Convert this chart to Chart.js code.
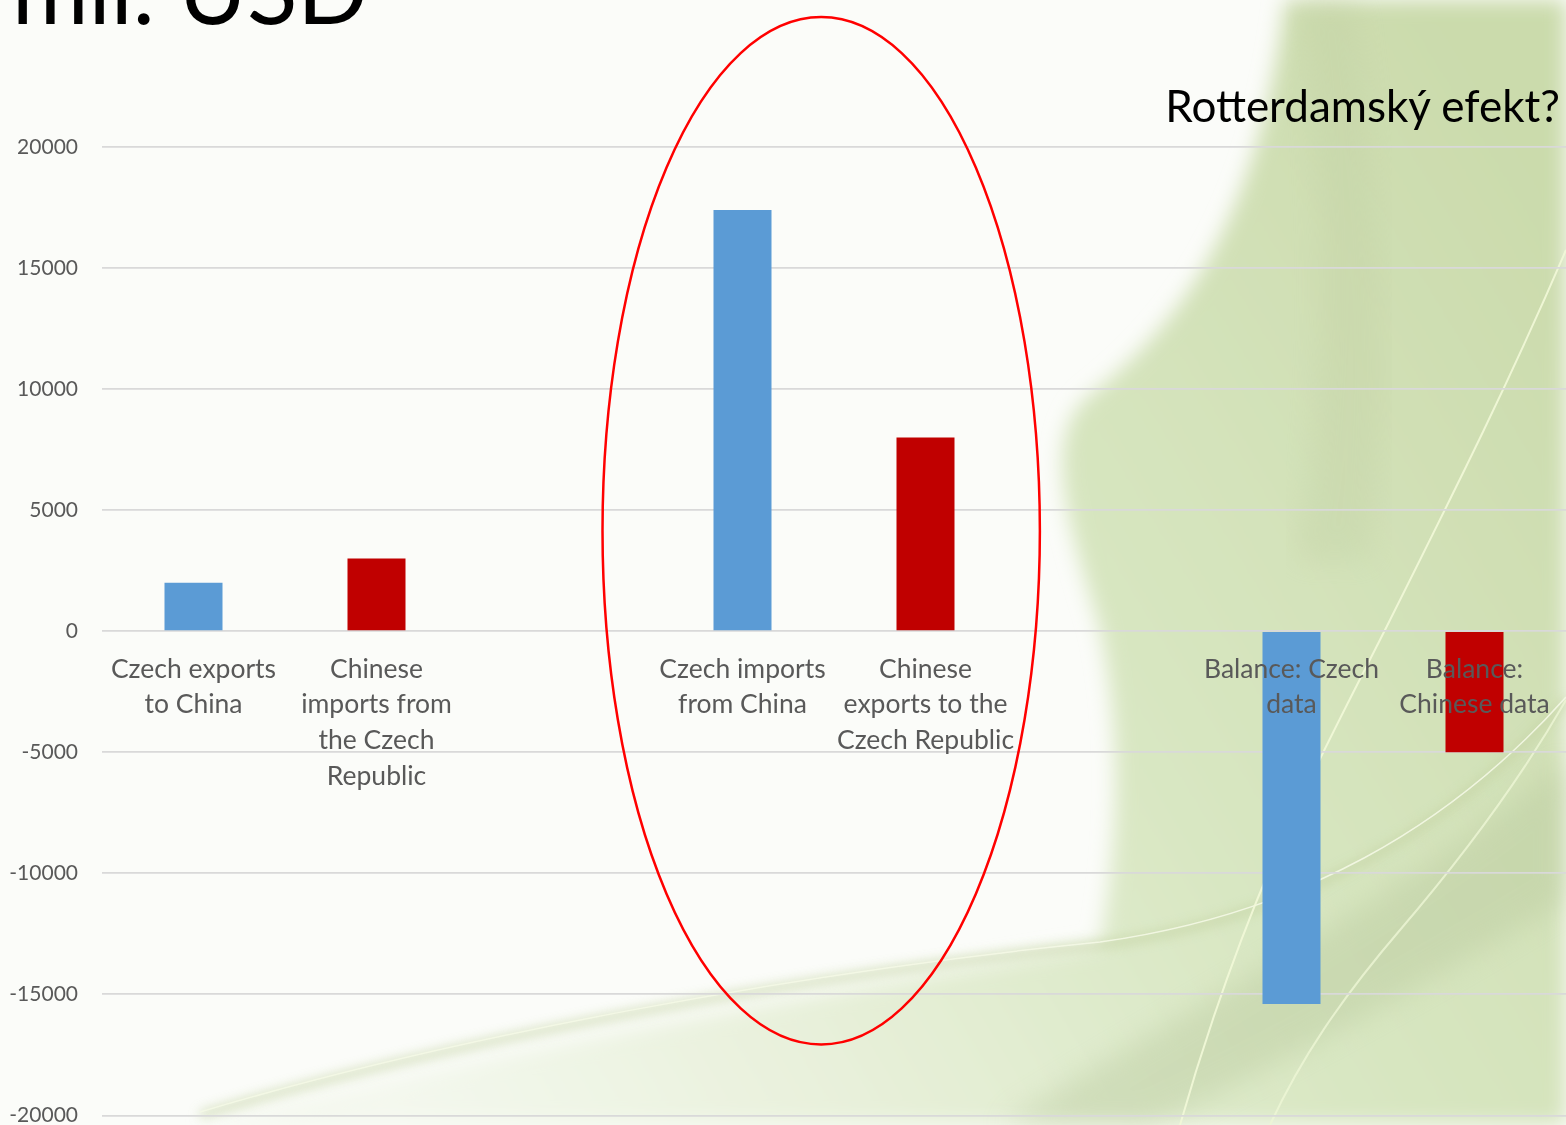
<!DOCTYPE html>
<html>
<head>
<meta charset="utf-8">
<script src="https://cdn.jsdelivr.net/npm/chart.js@4"></script>
<style>
    html, body { margin: 0; padding: 0; overflow: hidden; }
    body { width: 1566px; height: 1125px; position: relative; background: #fbfcf9; font-family: Lato, "Open Sans", sans-serif; }
    #bg { position: absolute; left: 0; top: 0; }
    #wrap { position: absolute; left: 0; top: 0; width: 1566px; height: 1152px; }
    #title { position: absolute; left: 12px; top: -58px; font-size: 93px; line-height: 1; color: #000; white-space: nowrap; }
    #subtitle { position: absolute; right: 6px; top: 83px; font-size: 44px; line-height: 1; color: #000; white-space: nowrap; }
</style>
</head>
<body>
<svg id="bg" width="1566" height="1125" viewBox="0 0 1566 1125">
    <defs>
        <linearGradient id="g1" x1="1" y1="0.2" x2="0" y2="0.7">
            <stop offset="0" stop-color="#cbdbac"/>
            <stop offset="0.45" stop-color="#d9e7c3"/>
            <stop offset="0.75" stop-color="#e9f1dc"/>
            <stop offset="1" stop-color="#f4f8ee"/>
        </linearGradient>
        <filter id="blur6"><feGaussianBlur stdDeviation="6"/></filter>
        <filter id="blur10"><feGaussianBlur stdDeviation="10"/></filter>
        <filter id="blur14"><feGaussianBlur stdDeviation="14"/></filter>
    </defs>
    <path d="M1285,0 C1262,190 1200,310 1090,395 C1035,440 1075,540 1100,630 C1125,750 1115,860 1100,945 C800,995 500,1050 200,1125 L1566,1125 L1566,0 Z" fill="url(#g1)" filter="url(#blur10)"/>
    <path d="M1300,0 C1325,200 1330,380 1295,560 L1370,560 C1395,380 1380,200 1355,0 Z" fill="#bfcda0" opacity="0.3" filter="url(#blur14)"/>
    <path d="M1000,1125 C1200,1000 1400,900 1566,760 L1566,900 C1400,1000 1250,1080 1150,1125 Z" fill="#b7c79b" opacity="0.4" filter="url(#blur14)"/>
    <path d="M200,1115 C450,1040 800,975 1100,945 C1300,917 1450,830 1566,700" fill="none" stroke="#c3d2a2" stroke-width="7" opacity="0.8" filter="url(#blur6)"/>
    <path d="M200,1112 C450,1037 800,972 1100,942 C1300,914 1450,827 1566,697" fill="none" stroke="#f4f8e6" stroke-width="1.5" opacity="0.9"/>
    <path d="M1566,250 C1510,380 1460,480 1390,620 C1330,740 1250,880 1180,1125" fill="none" stroke="#f2f8d8" stroke-width="2" opacity="0.9"/>
    <path d="M1566,700 C1520,780 1460,860 1400,930 C1340,1000 1300,1060 1270,1125" fill="none" stroke="#eef6d6" stroke-width="2" opacity="0.8"/>
</svg>
<div id="wrap"><canvas id="chart"></canvas></div>
<div id="title">mil. USD</div>
<div id="subtitle">Rotterdamský efekt?</div>
<script>
const categories = [
    ['Czech exports', 'to China'],
    ['Chinese', 'imports from', 'the Czech', 'Republic'],
    '',
    ['Czech imports', 'from China'],
    ['Chinese', 'exports to the', 'Czech Republic'],
    '',
    ['Balance: Czech', 'data'],
    ['Balance:', 'Chinese data']
];
const values = [2000, 3000, null, 17400, 8000, null, -15400, -5000];
const barColors = ['#5B9BD5', '#C00000', null, '#5B9BD5', '#C00000', null, '#5B9BD5', '#C00000'];
const yMin = -20000, yMax = 20000, yStep = 5000;

// red ellipse round the middle pair, in category / value units
const ellipseCenter = { x: 3.43, y: 4150 };
const ellipseRadius = { x: 1.195, y: 21220 };

const ellipsePlugin = {
    id: 'ellipse',
    afterDraw(chart) {
        const xs = chart.scales.x, ys = chart.scales.y;
        const step = xs.getPixelForValue(4) - xs.getPixelForValue(3);
        const cx = xs.getPixelForValue(3) + (ellipseCenter.x - 3) * step;
        const cy = ys.getPixelForValue(ellipseCenter.y);
        const rx = ellipseRadius.x * step;
        const ry = ys.getPixelForValue(0) - ys.getPixelForValue(ellipseRadius.y);
        const ctx = chart.ctx;
        ctx.save();
        ctx.beginPath();
        ctx.ellipse(cx, cy, rx, ry, 0, 0, Math.PI * 2);
        ctx.strokeStyle = '#FF0000';
        ctx.lineWidth = 2.5;
        ctx.stroke();
        ctx.restore();
    }
};

window.onload = () => {
    Chart.defaults.font.family = "Lato, 'Open Sans', sans-serif";
    Chart.defaults.color = '#595959';

    new Chart(document.getElementById('chart').getContext('2d'), {
        type: 'bar',
        data: {
            labels: categories,
            datasets: [{
                data: values,
                backgroundColor: barColors,
                borderWidth: 0,
                categoryPercentage: 1,
                barPercentage: 0.317
            }]
        },
        options: {
            responsive: true,
            maintainAspectRatio: false,
            animation: false,
            layout: { padding: { top: 147, bottom: 11, left: 0, right: 0 } },
            plugins: { legend: { display: false }, tooltip: { enabled: false } },
            scales: {
                x: {
                    position: { y: 0 },
                    afterFit: s => { s.height = 0; },
                    grid: { display: false },
                    border: { display: false },
                    ticks: { z: 1, font: { size: 26.5, lineHeight: 1.35 }, color: '#595959', padding: 12, maxRotation: 0, autoSkip: false }
                },
                y: {
                    min: yMin, max: yMax,
                    afterFit: s => { s.width = 102; },
                    grid: { color: '#d9d9d9', lineWidth: 1.75, drawTicks: false },
                    border: { display: false },
                    ticks: { stepSize: yStep, font: { size: 21 }, color: '#595959', padding: 24, callback: v => String(v) }
                }
            }
        },
        plugins: [ellipsePlugin]
    });
};
</script>
</body>
</html>
